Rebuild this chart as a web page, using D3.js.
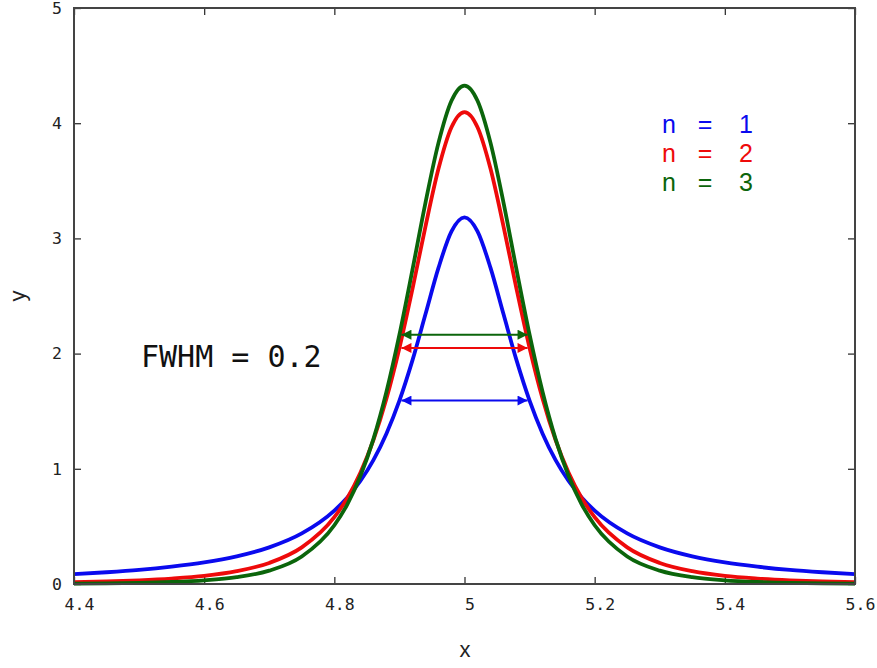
<!DOCTYPE html>
<html>
<head>
<meta charset="utf-8">
<script src="https://cdn.jsdelivr.net/npm/d3@7"></script>
<style>
  body { margin: 0; background: #fff; }
  svg { display: block; }
</style>
</head>
<body>
<svg id="chart"></svg>
<script>
// x positions of the sampled points
const xs = [4.40, 4.45, 4.50, 4.55, 4.60, 4.65, 4.70, 4.75, 4.80, 4.82, 4.84, 4.86, 4.88, 4.90, 4.92, 4.94, 4.96, 4.98,
            5.00,
            5.02, 5.04, 5.06, 5.08, 5.10, 5.12, 5.14, 5.16, 5.18, 5.20, 5.25, 5.30, 5.35, 5.40, 5.45, 5.50, 5.55, 5.60];

// n = 1
const yN1 = [0.086, 0.102, 0.122, 0.150, 0.187, 0.240, 0.318, 0.439, 0.637, 0.751, 0.894, 1.075, 1.305, 1.592, 1.941, 2.341, 2.744, 3.061,
             3.183,
             3.061, 2.744, 2.341, 1.941, 1.592, 1.305, 1.075, 0.894, 0.751, 0.637, 0.439, 0.318, 0.240, 0.187, 0.150, 0.122, 0.102, 0.086];
// n = 2
const yN2 = [0.016, 0.022, 0.032, 0.047, 0.070, 0.111, 0.183, 0.318, 0.580, 0.747, 0.965, 1.248, 1.608, 2.049, 2.560, 3.103, 3.604, 3.965,
             4.097,
             3.965, 3.604, 3.103, 2.560, 2.049, 1.608, 1.248, 0.965, 0.747, 0.580, 0.318, 0.183, 0.111, 0.070, 0.047, 0.032, 0.022, 0.016];
// n = 3
const yN3 = [0.004, 0.006, 0.010, 0.018, 0.032, 0.059, 0.116, 0.239, 0.510, 0.692, 0.937, 1.258, 1.667, 2.164, 2.727, 3.309, 3.829, 4.195,
             4.327,
             4.195, 3.829, 3.309, 2.727, 2.164, 1.667, 1.258, 0.937, 0.692, 0.510, 0.239, 0.116, 0.059, 0.032, 0.018, 0.010, 0.006, 0.004];

const seriesNames = ["n = 1", "n = 2", "n = 3"];
const seriesColors = ["#0a0aee", "#ee0a0a", "#0b650b"];

// FWHM arrows: start x, end x, height (half maximum)
const arrowStart = [4.9, 4.9, 4.9];
const arrowEnd = [5.1, 5.1, 5.1];
const arrowY = [1.592, 2.049, 2.164];

const xTicks = [4.4, 4.6, 4.8, 5.0, 5.2, 5.4, 5.6];
const yTicks = [0, 1, 2, 3, 4, 5];

const W = 877, H = 668;
const margin = { top: 8, right: 22, bottom: 84, left: 74 };
const width = W - margin.left - margin.right;
const height = H - margin.top - margin.bottom;

const svg = d3.select("#chart").attr("width", W).attr("height", H);

const defs = svg.append("defs");
seriesColors.forEach((c, i) => {
    defs.append("marker")
        .attr("id", "head" + i)
        .attr("viewBox", "0 0 10 10")
        .attr("refX", 10).attr("refY", 5)
        .attr("markerWidth", 6).attr("markerHeight", 5)
        .attr("markerUnits", "strokeWidth")
        .attr("orient", "auto-start-reverse")
        .append("path")
        .attr("d", "M0,0 L10,5 L0,10 z")
        .attr("fill", c);
});

const g = svg.append("g").attr("transform", `translate(${margin.left},${margin.top})`);

const x = d3.scaleLinear().domain([4.4, 5.6]).range([0, width]);
const y = d3.scaleLinear().domain([0, 5]).range([height, 0]);

const tickFont = "'DejaVu Sans Mono', monospace";

// Axes with inward ticks on all sides
const xAxisG = g.append("g").attr("transform", `translate(0,${height})`)
    .call(d3.axisBottom(x).tickValues(xTicks).tickSize(-7).tickPadding(14).tickFormat(d => d === 5 ? "5" : d3.format(".1f")(d)))
    .call(a => a.select(".domain").remove());
g.append("g")
    .call(d3.axisTop(x).tickValues(xTicks).tickSize(-7).tickFormat(""))
    .call(a => a.select(".domain").remove());
g.append("g")
    .call(d3.axisLeft(y).tickValues(yTicks).tickSize(-7).tickPadding(12).tickFormat(d3.format("d")))
    .call(a => a.select(".domain").remove());
g.append("g").attr("transform", `translate(${width},0)`)
    .call(d3.axisRight(y).tickValues(yTicks).tickSize(-7).tickFormat(""))
    .call(a => a.select(".domain").remove());

g.selectAll(".tick line").attr("stroke", "#333").attr("stroke-width", 1.3);
g.selectAll(".tick text")
    .attr("fill", "#222")
    .style("font-family", tickFont)
    .style("font-size", "16.5px");
xAxisG.selectAll(".tick text").attr("dx", 5);

// Curves
const line = d3.line()
    .x((d, i) => x(xs[i]))
    .y(d => y(d))
    .curve(d3.curveMonotoneX);

[yN1, yN2, yN3].forEach((ys, i) => {
    g.append("path")
        .datum(ys)
        .attr("fill", "none")
        .attr("stroke", seriesColors[i])
        .attr("stroke-width", 3.8)
        .attr("stroke-linejoin", "round")
        .attr("d", line);
});

// FWHM arrows
arrowY.forEach((v, i) => {
    g.append("line")
        .attr("x1", x(arrowStart[i]) + 2).attr("x2", x(arrowEnd[i]) - 2)
        .attr("y1", y(v)).attr("y2", y(v))
        .attr("stroke", seriesColors[i])
        .attr("stroke-width", 2)
        .attr("marker-start", `url(#head${i})`)
        .attr("marker-end", `url(#head${i})`);
});

// Frame
g.append("rect")
    .attr("width", width).attr("height", height)
    .attr("fill", "none")
    .attr("stroke", "#444")
    .attr("stroke-width", 2);

// FWHM label
svg.append("text")
    .attr("x", 141).attr("y", 367)
    .attr("fill", "#111")
    .style("font-family", tickFont)
    .style("font-size", "30px")
    .text("FWHM = 0.2");

// Legend
const legFont = "'Liberation Sans', 'Open Sans', sans-serif";
seriesNames.forEach((name, i) => {
    const parts = name.split(" ");
    const ly = 133 + i * 29;
    const lg = svg.append("g")
        .attr("fill", seriesColors[i])
        .style("font-family", legFont)
        .style("font-size", "25px")
        .attr("text-anchor", "middle");
    lg.append("text").attr("x", 669).attr("y", ly).text(parts[0]);
    lg.append("text").attr("x", 705).attr("y", ly).text(parts[1]);
    lg.append("text").attr("x", 746).attr("y", ly).text(parts[2]);
});

// Axis titles
svg.append("text")
    .attr("x", 465).attr("y", 657)
    .attr("text-anchor", "middle")
    .attr("fill", "#222")
    .style("font-family", legFont)
    .style("font-size", "22px")
    .text("x");

svg.append("text")
    .attr("transform", "translate(25,296) rotate(-90)")
    .attr("text-anchor", "middle")
    .attr("fill", "#222")
    .style("font-family", legFont)
    .style("font-size", "22px")
    .text("y");
</script>
</body>
</html>
